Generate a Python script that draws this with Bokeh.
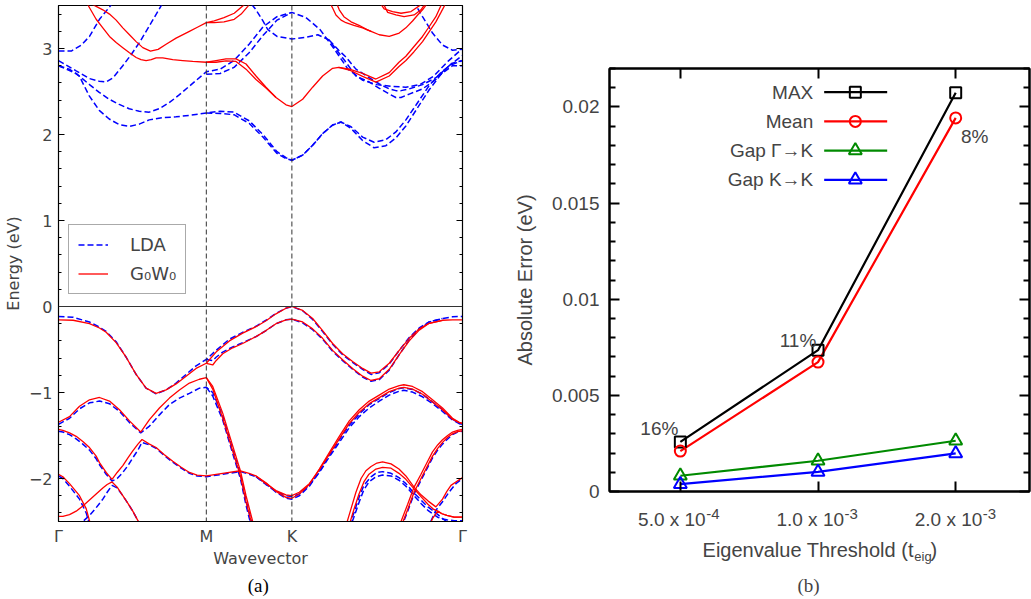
import math
from bokeh.plotting import figure
from bokeh.models import (Span, Legend, LegendItem, Label, FixedTicker, LinearAxis, LogAxis,
                          CustomJSTickFormatter, Range1d)
from bokeh.layouts import row, column
from bokeh.embed import file_html
from bokeh.resources import INLINE

# ====================== Panel (a): band structure ======================
path_ticks = [0.0, 0.577, 0.911, 1.577]
path_labels = ["Γ", "M", "K", "Γ"]
energy_ticks = [-2, -1, 0, 1, 2, 3]

# --- valence bands ---
vb1_k = [0.000, 0.057, 0.121, 0.160, 0.186, 0.225, 0.264, 0.303, 0.342, 0.381, 0.420, 0.459, 0.498, 0.537, 0.577,
         0.615, 0.667, 0.719, 0.771, 0.810, 0.849, 0.888, 0.911, 0.953, 0.992, 1.031, 1.070, 1.109, 1.148, 1.187,
         1.220, 1.252, 1.291, 1.330, 1.369, 1.408, 1.447, 1.499, 1.538, 1.577]
vb1_gw = [-0.155, -0.16, -0.20, -0.25, -0.30, -0.42, -0.59, -0.79, -0.95, -1.01, -0.97, -0.90, -0.81, -0.72, -0.66,
          -0.53, -0.40, -0.31, -0.235, -0.165, -0.085, -0.02, 0.0, -0.046, -0.14, -0.28, -0.43, -0.55, -0.64, -0.72,
          -0.775, -0.76, -0.66, -0.51, -0.37, -0.26, -0.195, -0.16, -0.155, -0.155]
vb1_lda = [-0.115, -0.125, -0.18, -0.24, -0.29, -0.41, -0.59, -0.79, -0.95, -1.015, -0.97, -0.89, -0.79, -0.69, -0.615,
           -0.51, -0.38, -0.30, -0.23, -0.16, -0.08, -0.02, 0.0, -0.05, -0.15, -0.29, -0.44, -0.56, -0.65, -0.73,
           -0.79, -0.77, -0.67, -0.51, -0.36, -0.25, -0.18, -0.14, -0.12, -0.115]

vb2_k = [0.577, 0.602, 0.615, 0.641, 0.680, 0.719, 0.771, 0.810, 0.849, 0.888, 0.911, 0.953, 0.992, 1.031, 1.070,
         1.109, 1.148, 1.187, 1.220, 1.252, 1.291, 1.330, 1.369, 1.408, 1.447, 1.499]
vb2_gw = [-0.66, -0.68, -0.63, -0.55, -0.48, -0.43, -0.35, -0.28, -0.20, -0.155, -0.146, -0.18, -0.26, -0.37, -0.51,
          -0.62, -0.72, -0.81, -0.86, -0.84, -0.73, -0.56, -0.40, -0.275, -0.195, -0.16]
vb2_lda = [-0.615, -0.63, -0.59, -0.53, -0.47, -0.42, -0.35, -0.28, -0.20, -0.155, -0.146, -0.19, -0.27, -0.38, -0.52,
           -0.63, -0.73, -0.82, -0.87, -0.85, -0.74, -0.56, -0.39, -0.26, -0.18, -0.14]

vb3_k = [0.000, 0.043, 0.082, 0.121, 0.160, 0.199, 0.238, 0.277, 0.321, 0.355, 0.394, 0.433, 0.472, 0.511, 0.550,
         0.577, 0.602, 0.641, 0.680, 0.710, 0.732, 0.758, 0.783]
vb3_gw = [-1.346, -1.28, -1.16, -1.085, -1.058, -1.10, -1.20, -1.33, -1.46, -1.315, -1.18, -1.065, -0.97, -0.89,
          -0.846, -0.827, -0.93, -1.24, -1.62, -1.91, -2.20, -2.50, -2.80]
vb3_lda = [-1.37, -1.30, -1.19, -1.12, -1.10, -1.13, -1.22, -1.35, -1.47, -1.39, -1.26, -1.14, -1.065, -1.01, -0.95,
           -0.94, -1.0, -1.27, -1.66, -1.95, -2.25, -2.56, -2.85]

vb4_k = [0.577, 0.602, 0.641, 0.680, 0.710, 0.732, 0.758, 0.783]
vb4_gw = [-0.827, -0.96, -1.30, -1.68, -1.97, -2.27, -2.57, -2.85]
vb4_lda = [-0.94, -1.04, -1.32, -1.71, -2.00, -2.31, -2.62, -2.90]

vb5_k = [0.000, 0.017, 0.043, 0.069, 0.095, 0.121, 0.147, 0.160, 0.186, 0.209, 0.229, 0.251, 0.271, 0.290, 0.310,
         0.326, 0.355, 0.381, 0.412, 0.446, 0.479, 0.511, 0.541, 0.577, 0.641, 0.710, 0.744, 0.771, 0.810, 0.849,
         0.888, 0.911, 0.940, 0.979, 1.018, 1.057, 1.096, 1.135, 1.174, 1.213, 1.252, 1.291, 1.330, 1.348, 1.382,
         1.421, 1.460, 1.499, 1.538, 1.564, 1.577]
vb5_gw = [-1.43, -1.44, -1.47, -1.51, -1.57, -1.64, -1.74, -1.815, -1.93, -2.01, -1.93, -1.85, -1.76, -1.68, -1.60,
          -1.546, -1.60, -1.64, -1.72, -1.80, -1.87, -1.93, -1.96, -1.97, -1.94, -1.91, -1.94, -1.97, -2.05, -2.15,
          -2.22, -2.23, -2.18, -2.07, -1.89, -1.70, -1.51, -1.33, -1.20, -1.10, -1.03, -0.96, -0.92, -0.91, -0.93,
          -0.99, -1.085, -1.18, -1.30, -1.346, -1.36]
vb5_lda = [-1.45, -1.46, -1.49, -1.54, -1.60, -1.67, -1.77, -1.84, -1.95, -2.03, -2.00, -1.93, -1.85, -1.76, -1.67,
           -1.58, -1.61, -1.65, -1.73, -1.81, -1.88, -1.94, -1.97, -1.98, -1.95, -1.92, -1.95, -1.98, -2.06, -2.16,
           -2.23, -2.24, -2.20, -2.09, -1.92, -1.73, -1.55, -1.38, -1.25, -1.14, -1.07, -1.00, -0.955, -0.945, -0.965,
           -1.02, -1.11, -1.20, -1.31, -1.36, -1.37]

vb6_k = [0.771, 0.810, 0.849, 0.888, 0.911, 0.940, 0.979, 1.018, 1.057, 1.096, 1.135, 1.174, 1.213, 1.252, 1.291,
         1.330, 1.348, 1.382, 1.421, 1.460, 1.499, 1.538, 1.564, 1.577]
vb6_gw = [-1.97, -2.06, -2.14, -2.19, -2.20, -2.16, -2.06, -1.90, -1.72, -1.54, -1.36, -1.23, -1.13, -1.06, -0.99,
          -0.95, -0.94, -0.96, -1.02, -1.11, -1.20, -1.31, -1.35, -1.36]
vb6_lda = [-1.98, -2.07, -2.15, -2.20, -2.21, -2.18, -2.08, -1.93, -1.75, -1.58, -1.41, -1.28, -1.18, -1.10, -1.03,
           -0.985, -0.975, -0.995, -1.05, -1.13, -1.22, -1.32, -1.36, -1.37]

vb7_k = [0.000, 0.017, 0.043, 0.069, 0.095, 0.121, 0.147, 0.173, 0.190, 0.209, 0.229, 0.251, 0.271, 0.290, 0.310, 0.330]
vb7_gw = [-2.44, -2.44, -2.42, -2.38, -2.32, -2.25, -2.18, -2.11, -2.07, -2.04, -2.10, -2.20, -2.29, -2.38, -2.49, -2.60]
vb7_lda = [-2.58, -2.58, -2.57, -2.54, -2.50, -2.43, -2.34, -2.24, -2.16, -2.08, -2.11, -2.20, -2.29, -2.38, -2.49, -2.60]

vb8_k = [0.000, 0.017, 0.043, 0.082, 0.108, 0.121, 0.135]
vb8_gw = [-1.95, -1.98, -2.06, -2.20, -2.35, -2.49, -2.65]
vb8_lda = [-1.97, -2.00, -2.09, -2.24, -2.40, -2.53, -2.69]

vb9_k = [1.122, 1.142, 1.161, 1.181, 1.200, 1.220, 1.243, 1.265, 1.298, 1.329, 1.356, 1.388, 1.415, 1.442, 1.473,
         1.499, 1.516, 1.532, 1.551, 1.577]
vb9_gw = [-2.55, -2.35, -2.16, -2.00, -1.91, -1.86, -1.82, -1.807, -1.83, -1.89, -1.97, -2.10, -2.19, -2.26, -2.33,
          -2.24, -2.15, -2.08, -2.04, -1.99]
vb9_lda_k = [1.134, 1.153, 1.173, 1.192, 1.220, 1.243, 1.265, 1.298, 1.329, 1.356, 1.388, 1.415, 1.442, 1.473, 1.497, 1.524]
vb9_lda = [-2.55, -2.40, -2.22, -2.08, -1.98, -1.93, -1.92, -1.94, -1.99, -2.06, -2.17, -2.25, -2.33, -2.40, -2.46, -2.52]

vb10_k = [1.134, 1.153, 1.173, 1.192, 1.212, 1.239, 1.265, 1.298, 1.329, 1.356, 1.388, 1.415, 1.442, 1.465, 1.480,
          1.497, 1.516, 1.544, 1.577]
vb10_gw = [-2.55, -2.36, -2.18, -2.04, -1.95, -1.89, -1.87, -1.88, -1.94, -2.01, -2.12, -2.21, -2.30, -2.36, -2.38,
           -2.41, -2.43, -2.45, -2.45]
vb10_lda = [-2.60, -2.45, -2.28, -2.13, -2.04, -1.98, -1.96, -1.97, -2.02, -2.09, -2.20, -2.29, -2.37, -2.42, -2.45,
            -2.47, -2.48, -2.49, -2.49]

vb11_k = [1.446, 1.461, 1.480, 1.497, 1.516, 1.544, 1.577]
vb11_gw = [-2.56, -2.46, -2.38, -2.41, -2.43, -2.45, -2.45]
vb11_lda_k = [1.453, 1.473, 1.499, 1.524, 1.551, 1.577]
vb11_lda = [-2.50, -2.37, -2.27, -2.16, -2.06, -2.00]

vb12_k = [1.337, 1.363, 1.388, 1.415, 1.441, 1.460, 1.480, 1.499, 1.519, 1.538, 1.558, 1.577]
vb12_gw = [-2.50, -2.30, -2.10, -1.95, -1.80, -1.69, -1.61, -1.55, -1.50, -1.46, -1.44, -1.43]
vb13_gw = [-2.56, -2.36, -2.16, -2.00, -1.85, -1.74, -1.65, -1.58, -1.52, -1.48, -1.455, -1.445]
vb12_lda = [-2.58, -2.38, -2.18, -2.02, -1.87, -1.76, -1.67, -1.60, -1.54, -1.49, -1.46, -1.45]

# --- conduction bands (LDA) ---
cb1_k = [0.000, 0.042, 0.081, 0.120, 0.159, 0.198, 0.237, 0.277, 0.315, 0.354, 0.404, 0.459, 0.518, 0.577, 0.631,
         0.685, 0.744, 0.798, 0.853, 0.888, 0.911, 0.953, 0.992, 1.031, 1.070, 1.103, 1.142, 1.187, 1.232, 1.278,
         1.317, 1.356, 1.395, 1.447, 1.493, 1.538, 1.577]
cb1_lda = [2.80, 2.76, 2.68, 2.45, 2.28, 2.18, 2.115, 2.095, 2.12, 2.17, 2.195, 2.205, 2.225, 2.25, 2.27, 2.26, 2.16,
           2.00, 1.80, 1.73, 1.70, 1.76, 1.875, 2.01, 2.11, 2.145, 2.09, 1.97, 1.91, 1.94, 2.03, 2.17, 2.34, 2.57,
           2.72, 2.83, 2.86]
cb1b_k = [0.577, 0.631, 0.685, 0.744, 0.798, 0.853, 0.888, 0.911, 0.953, 0.992, 1.031, 1.070, 1.103, 1.142, 1.187,
          1.232, 1.278, 1.317, 1.356, 1.395, 1.447, 1.493, 1.538, 1.577]
cb1b_lda = [2.25, 2.245, 2.23, 2.13, 1.97, 1.78, 1.72, 1.70, 1.76, 1.875, 2.01, 2.11, 2.145, 2.07, 1.93, 1.845, 1.87,
            1.96, 2.10, 2.28, 2.52, 2.70, 2.80, 2.80]

cb2_k = [0.000, 0.069, 0.121, 0.159, 0.198, 0.237, 0.276, 0.315, 0.354, 0.393, 0.432, 0.471, 0.518, 0.577, 0.631,
         0.685, 0.744, 0.798, 0.853, 0.911, 0.966, 1.021, 1.075, 1.130, 1.188, 1.243, 1.298, 1.356, 1.411, 1.465,
         1.520, 1.577]
cb2_lda = [2.80, 2.71, 2.58, 2.49, 2.41, 2.35, 2.30, 2.27, 2.26, 2.30, 2.37, 2.46, 2.58, 2.73, 2.76, 2.86, 3.05, 3.25,
           3.37, 3.42, 3.36, 3.22, 3.00, 2.76, 2.63, 2.58, 2.56, 2.55, 2.58, 2.68, 2.85, 3.00]
cb2b_k = [0.577, 0.631, 0.685, 0.744, 0.798, 0.853, 0.911]
cb2b_lda = [2.70, 2.71, 2.78, 2.95, 3.15, 3.33, 3.42]

cb3_k = [0.685, 0.744, 0.771, 0.798, 0.817, 0.853, 0.911, 0.966, 1.012, 1.056, 1.094, 1.122, 1.161, 1.213, 1.251,
         1.291, 1.317, 1.337, 1.369, 1.421, 1.473, 1.525, 1.577]
cb3_lda = [3.75, 3.55, 3.45, 3.32, 3.22, 3.14, 3.11, 3.13, 3.16, 3.10, 2.95, 2.84, 2.68, 2.61, 2.54, 2.47, 2.43, 2.43,
           2.47, 2.53, 2.64, 2.80, 2.86]
cb3b_k = [1.056, 1.094, 1.122, 1.161, 1.213, 1.251, 1.291, 1.317, 1.337, 1.369, 1.421, 1.473, 1.525, 1.577]
cb3b_lda = [3.10, 2.98, 2.90, 2.76, 2.66, 2.59, 2.53, 2.51, 2.51, 2.53, 2.58, 2.66, 2.80, 2.92]

cb4_k = [0.000, 0.050, 0.089, 0.121, 0.160, 0.212, 0.237]
cb4_lda = [2.97, 2.97, 3.04, 3.14, 3.34, 3.53, 3.65]
cb4r_k = [1.356, 1.382, 1.421, 1.460, 1.499, 1.538, 1.577]
cb4r_lda = [3.75, 3.57, 3.37, 3.18, 3.04, 2.98, 2.99]
cb5_k = [0.000, 0.069, 0.121, 0.159, 0.186, 0.213, 0.251, 0.284, 0.316, 0.362, 0.407, 0.432]
cb5_lda = [2.86, 2.74, 2.65, 2.62, 2.61, 2.66, 2.80, 2.93, 3.07, 3.30, 3.53, 3.65]

# --- conduction bands (G0W0) ---
cw1_k = [0.096, 0.116, 0.147, 0.173, 0.199, 0.225, 0.251, 0.277, 0.303, 0.322, 0.342, 0.362, 0.381, 0.407, 0.446,
         0.485, 0.524, 0.577, 0.615, 0.654, 0.693, 0.732, 0.771, 0.810, 0.849, 0.888, 0.911, 0.953, 0.992, 1.031,
         1.070, 1.094, 1.135, 1.187, 1.239, 1.291, 1.329, 1.356, 1.387, 1.421, 1.446, 1.473, 1.493, 1.516]
cw1_gw = [3.60, 3.50, 3.34, 3.24, 3.14, 3.07, 3.01, 2.95, 2.895, 2.87, 2.86, 2.87, 2.89, 2.89, 2.87, 2.86, 2.85, 2.84,
          2.86, 2.88, 2.88, 2.82, 2.68, 2.55, 2.43, 2.345, 2.325, 2.41, 2.55, 2.68, 2.77, 2.78, 2.76, 2.71, 2.645,
          2.72, 2.84, 2.91, 3.02, 3.14, 3.25, 3.37, 3.50, 3.62]
cw1b_k = [0.577, 0.615, 0.654, 0.693, 0.732, 0.771, 0.810, 0.849]
cw1b_gw = [2.84, 2.84, 2.855, 2.85, 2.76, 2.64, 2.54, 2.43]
cw1c_k = [1.094, 1.135, 1.187, 1.239, 1.291, 1.329, 1.356, 1.387, 1.421, 1.446, 1.473, 1.493, 1.516, 1.532]
cw1c_gw = [2.78, 2.75, 2.675, 2.61, 2.68, 2.79, 2.86, 2.96, 3.08, 3.19, 3.31, 3.42, 3.55, 3.62]

cw2_k = [0.100, 0.128, 0.147, 0.173, 0.199, 0.225, 0.251, 0.277, 0.303, 0.329, 0.359, 0.389, 0.420, 0.459, 0.511,
         0.544, 0.577, 0.608, 0.646, 0.686, 0.725, 0.752]
cw2_gw = [3.55, 3.52, 3.49, 3.45, 3.40, 3.33, 3.24, 3.16, 3.08, 3.01, 2.97, 2.99, 3.05, 3.12, 3.20, 3.25, 3.30, 3.32,
          3.36, 3.41, 3.51, 3.60]
cw2b_k = [0.577, 0.608, 0.646, 0.686, 0.713, 0.739, 0.759]
cw2b_gw = [3.30, 3.30, 3.31, 3.34, 3.40, 3.49, 3.58]

cw3_k = [1.048, 1.070, 1.083, 1.103, 1.122, 1.153, 1.187, 1.220, 1.252, 1.291, 1.330, 1.356, 1.382, 1.402, 1.421, 1.446]
cw3_gw = [3.60, 3.47, 3.39, 3.33, 3.30, 3.27, 3.24, 3.20, 3.16, 3.14, 3.18, 3.24, 3.32, 3.39, 3.45, 3.55]
cw3b_k = [1.075, 1.096, 1.114, 1.142, 1.173, 1.204, 1.220]
cw3b_gw = [3.60, 3.45, 3.37, 3.31, 3.27, 3.22, 3.20]
cw4_k = [1.251, 1.271, 1.304, 1.337, 1.376, 1.415, 1.434]
cw4_gw = [3.55, 3.46, 3.43, 3.41, 3.43, 3.51, 3.58]
cw4b_k = [1.263, 1.285, 1.317, 1.349, 1.388, 1.415, 1.438]
cw4b_gw = [3.55, 3.42, 3.39, 3.37, 3.39, 3.45, 3.55]

lda_curves = [(vb1_k, vb1_lda), (vb2_k, vb2_lda), (vb3_k, vb3_lda), (vb4_k, vb4_lda), (vb5_k, vb5_lda),
              (vb6_k, vb6_lda), (vb7_k, vb7_lda), (vb8_k, vb8_lda), (vb9_lda_k, vb9_lda), (vb10_k, vb10_lda),
              (vb11_lda_k, vb11_lda), (vb12_k, vb12_lda), (cb1_k, cb1_lda), (cb1b_k, cb1b_lda), (cb2_k, cb2_lda),
              (cb2b_k, cb2b_lda), (cb3_k, cb3_lda), (cb3b_k, cb3b_lda), (cb4_k, cb4_lda), (cb4r_k, cb4r_lda),
              (cb5_k, cb5_lda)]
gw_curves = [(vb1_k, vb1_gw), (vb2_k, vb2_gw), (vb3_k, vb3_gw), (vb4_k, vb4_gw), (vb5_k, vb5_gw), (vb6_k, vb6_gw),
             (vb7_k, vb7_gw), (vb8_k, vb8_gw), (vb9_k, vb9_gw), (vb10_k, vb10_gw), (vb11_k, vb11_gw),
             (vb12_k, vb12_gw), (vb12_k, vb13_gw), (cw1_k, cw1_gw), (cw1b_k, cw1b_gw), (cw1c_k, cw1c_gw),
             (cw2_k, cw2_gw), (cw2b_k, cw2b_gw), (cw3_k, cw3_gw), (cw3b_k, cw3b_gw), (cw4_k, cw4_gw),
             (cw4b_k, cw4b_gw)]
for i, (kk, ee) in enumerate(lda_curves + gw_curves):
    assert len(kk) == len(ee), (i, len(kk), len(ee))

# ====================== Panel (b): error vs threshold ======================
thresholds = [5e-4, 1e-3, 2e-3]
threshold_mantissa = ["5.0 x 10", "1.0 x 10", "2.0 x 10"]
threshold_exponent = ["-4", "-3", "-3"]
err_max = [0.00258, 0.00735, 0.02074]
err_mean = [0.0021, 0.00673, 0.01943]
err_gap_gk = [0.00082, 0.0016, 0.00264]
err_gap_kk = [0.00038, 0.00102, 0.00198]
pct_labels = ["16%", "11%", "8%"]
error_ticks = [0, 0.005, 0.01, 0.015, 0.02]
series_names = ["MAX", "Mean", "Gap Γ→K", "Gap K→K"]

BLUE = "#0000ff"
RED = "#ff0000"
GREEN = "#008a00"

# ---------------------------------------------------------------- figure (a)
p1 = figure(width=510, height=570, x_range=Range1d(0, 1.577), y_range=Range1d(-2.5, 3.5),
            output_backend="svg", toolbar_location=None,
            min_border_left=57, min_border_right=48, min_border_top=5, min_border_bottom=44)
p1.frame_align = False
p1.xgrid.visible = False
p1.ygrid.visible = False
p1.outline_line_color = "black"
p1.outline_line_width = 1.2

minor_e = [i / 5 for i in range(-12, 18) if i % 5 != 0]
yt1 = FixedTicker(ticks=energy_ticks, minor_ticks=minor_e)
ax = p1.yaxis[0]
ax.ticker = yt1
ax.formatter = CustomJSTickFormatter(code="return tick < 0 ? '\u2212' + Math.abs(tick) : '' + tick;")
ax.major_tick_in = 6
ax.major_tick_out = 0
ax.minor_tick_in = 3
ax.minor_tick_out = 0
ax.major_label_standoff = 6
ax.major_label_text_font = "DejaVu Sans"
ax.major_label_text_font_size = "16px"
ax.axis_label = "Energy (eV)"
ax.axis_label_text_font = "DejaVu Sans"
ax.axis_label_text_font_size = "16px"
ax.axis_label_text_font_style = "normal"
ax.axis_label_standoff = 3

rax1 = LinearAxis(ticker=yt1, formatter=CustomJSTickFormatter(code="return '';"),
                  major_tick_in=6, major_tick_out=0, minor_tick_in=3, minor_tick_out=0,
                  major_label_standoff=0, major_label_text_font_size="0px")
p1.add_layout(rax1, "right")

bx = p1.xaxis[0]
bx.ticker = FixedTicker(ticks=path_ticks, minor_ticks=[])
bx.formatter = CustomJSTickFormatter(args=dict(vals=path_ticks, labels=path_labels), code="""
let best = 0, d = Infinity;
for (let i = 0; i < vals.length; i++) { const e = Math.abs(vals[i] - tick); if (e < d) { d = e; best = i; } }
return labels[best];
""")
bx.major_tick_in = 0
bx.major_tick_out = 0
bx.minor_tick_in = 0
bx.minor_tick_out = 0
bx.major_label_standoff = 5
bx.major_label_text_font = "DejaVu Sans"
bx.major_label_text_font_size = "16px"
bx.axis_label = "Wavevector"
bx.axis_label_text_font = "DejaVu Sans"
bx.axis_label_text_font_size = "16px"
bx.axis_label_text_font_style = "normal"
bx.axis_label_standoff = 0

for loc in path_ticks[1:3]:
    p1.add_layout(Span(location=loc, dimension="height", line_color="#333333", line_width=1, line_dash="5 3"))
p1.add_layout(Span(location=0, dimension="width", line_color="#333333", line_width=1))

lda_r = [p1.line(kk, ee, line_color=BLUE, line_width=1.5, line_dash="6 3") for kk, ee in lda_curves]
gw_r = [p1.line(kk, ee, line_color=RED, line_width=1.3) for kk, ee in gw_curves]

leg = Legend(items=[LegendItem(label="LDA", renderers=[lda_r[0]]),
                    LegendItem(label="G₀W₀", renderers=[gw_r[0]])],
             location=(10, 227), orientation="vertical", margin=0, padding=9, spacing=8,
             glyph_width=30, glyph_height=21, label_height=21, label_standoff=22,
             label_text_font="DejaVu Sans", label_text_font_size="18px",
             border_line_color="#555555", border_line_width=1, background_fill_alpha=1)
p1.add_layout(leg)

# caption strip under panel (a): y measured downward in pixels from its top
cap1 = figure(width=510, height=29, x_range=p1.x_range, y_range=Range1d(29, 0),
              output_backend="svg", toolbar_location=None, x_axis_location=None, y_axis_location=None,
              min_border_left=57, min_border_right=48, min_border_top=0, min_border_bottom=0)
cap1.frame_align = False
cap1.outline_line_color = None
cap1.xgrid.visible = False
cap1.ygrid.visible = False
cap1.add_layout(Label(x=0.7815, y=15, text="(a)", text_align="center", text_baseline="middle",
                      text_font="Liberation Serif", text_font_size="19px", text_color="black"))

# ---------------------------------------------------------------- figure (b)
X0, X1, Y0, Y1 = 3.5e-4, 2.9e-3, 0.0, 0.022
P2_LEFT, P2_W, P2_TOP, P2_H = 607.0, 422.0, 68.0, 423.0   # page pixels of the frame


def px2x(page_x):
    return X0 * (X1 / X0) ** ((page_x - P2_LEFT) / P2_W)


def px2y(page_y):
    return Y1 - (page_y - P2_TOP) / P2_H * (Y1 - Y0)


P2_HEIGHT = 503
p2 = figure(width=521, height=P2_HEIGHT, x_axis_type="log", x_range=Range1d(X0, X1), y_range=Range1d(Y0, Y1),
            output_backend="svg", toolbar_location=None,
            min_border_left=97, min_border_right=2, min_border_top=68, min_border_bottom=P2_HEIGHT - 491)
p2.frame_align = False
p2.xgrid.visible = False
p2.ygrid.visible = False
p2.outline_line_color = "black"
p2.outline_line_width = 2

minor_err = [i / 1000 for i in range(1, 23) if i % 5 != 0]
yt2 = FixedTicker(ticks=error_ticks, minor_ticks=minor_err)
ay = p2.yaxis[0]
ay.ticker = yt2
ay.formatter = CustomJSTickFormatter(code="return '' + tick;")
ay.major_tick_in = 10
ay.major_tick_out = 0
ay.minor_tick_in = 6
ay.minor_tick_out = 0
ay.major_tick_line_width = 2
ay.minor_tick_line_width = 2
ay.axis_line_width = 2
ay.major_label_standoff = 10
ay.major_label_text_font = "Liberation Sans"
ay.major_label_text_font_size = "19px"
ay.axis_label = "Absolute Error (eV)"
ay.axis_label_text_font = "Liberation Sans"
ay.axis_label_text_font_size = "20px"
ay.axis_label_text_font_style = "normal"
ay.axis_label_standoff = 13

rax2 = LinearAxis(ticker=yt2, formatter=CustomJSTickFormatter(code="return '';"),
                  major_tick_in=10, major_tick_out=0, minor_tick_in=6, minor_tick_out=0,
                  major_tick_line_width=2, minor_tick_line_width=2, axis_line_width=2,
                  major_label_standoff=0, major_label_text_font_size="0px")
p2.add_layout(rax2, "right")

xt2 = FixedTicker(ticks=thresholds, minor_ticks=[])
axx = p2.xaxis[0]
axx.ticker = xt2
axx.formatter = CustomJSTickFormatter(code="return '';")
axx.major_tick_in = 10
axx.major_tick_out = 0
axx.minor_tick_in = 0
axx.minor_tick_out = 0
axx.major_tick_line_width = 2
axx.axis_line_width = 2
axx.major_label_standoff = 0
axx.major_label_text_font_size = "0px"

tax2 = LogAxis(ticker=xt2, formatter=CustomJSTickFormatter(code="return '';"),
               major_tick_in=10, major_tick_out=0, minor_tick_in=0, minor_tick_out=0,
               major_tick_line_width=2, axis_line_width=2, major_label_standoff=0,
               major_label_text_font_size="0px")
p2.add_layout(tax2, "above")

series = [(err_max, "black", "square", 11),
          (err_mean, RED, "circle", 11),
          (err_gap_gk, GREEN, "triangle", 13),
          (err_gap_kk, BLUE, "triangle", 13)]
for vals, col, mk, sz in series:
    p2.line(thresholds, vals, line_color=col, line_width=2.2)
for vals, col, mk, sz in series:
    p2.scatter(thresholds, vals, marker=mk, size=sz, line_color=col, line_width=2, fill_color=None)

# percentage annotations
pct_font = dict(text_align="center", text_baseline="middle", text_font="Liberation Sans", text_font_size="19px")
p2.add_layout(Label(x=thresholds[0], y=err_max[0], x_offset=-21, y_offset=13, text=pct_labels[0], **pct_font))
p2.add_layout(Label(x=thresholds[1], y=err_max[1], x_offset=-20, y_offset=10, text=pct_labels[1], **pct_font))
p2.add_layout(Label(x=thresholds[2], y=err_mean[2], x_offset=19, y_offset=-19, text=pct_labels[2], **pct_font))

# legend (text on the left of the sample, as in the original)
for i, (name, (vals, col, mk, sz)) in enumerate(zip(series_names, series)):
    ry = px2y(91.7 + 29.2 * i)
    p2.add_layout(Label(x=px2x(811.7), y=ry, text=name, text_align="right", text_baseline="middle",
                        text_font="Liberation Sans", text_font_size="19px"))
    p2.line([px2x(822.7), px2x(886)], [ry, ry], line_color=col, line_width=2.2)
    p2.scatter([px2x(854)], [ry], marker=mk, size=sz, line_color=col, line_width=2, fill_color=None)

# caption strip under panel (b): tick labels, axis title, caption; y in pixels downward from its top
CAP2_TOP = P2_HEIGHT
CAP2_H = 599 - P2_HEIGHT
cap2 = figure(width=521, height=CAP2_H, x_axis_type="log", x_range=p2.x_range, y_range=Range1d(CAP2_H, 0),
              output_backend="svg", toolbar_location=None, x_axis_location=None, y_axis_location=None,
              min_border_left=97, min_border_right=2, min_border_top=0, min_border_bottom=0)
cap2.frame_align = False
cap2.outline_line_color = None
cap2.xgrid.visible = False
cap2.ygrid.visible = False
for t, mant, expo in zip(thresholds, threshold_mantissa, threshold_exponent):
    cap2.add_layout(Label(x=t, y=519 - CAP2_TOP, x_offset=27, text=mant, text_align="right",
                          text_baseline="middle", text_font="Liberation Sans", text_font_size="19px"))
    cap2.add_layout(Label(x=t, y=513 - CAP2_TOP, x_offset=27.5, text=expo, text_align="left",
                          text_baseline="middle", text_font="Liberation Sans", text_font_size="15px"))
cap2.add_layout(Label(x=px2x(913.3), y=549 - CAP2_TOP, text="Eigenvalue Threshold (t", text_align="right",
                      text_baseline="middle", text_font="Liberation Sans", text_font_size="20px"))
cap2.add_layout(Label(x=px2x(913.8), y=556 - CAP2_TOP, text="eig", text_align="left",
                      text_baseline="middle", text_font="Liberation Sans", text_font_size="13px"))
cap2.add_layout(Label(x=px2x(930.0), y=549 - CAP2_TOP, text=")", text_align="left",
                      text_baseline="middle", text_font="Liberation Sans", text_font_size="20px"))
cap2.add_layout(Label(x=px2x(808), y=585 - CAP2_TOP, text="(b)", text_align="center", text_baseline="middle",
                      text_font="Liberation Serif", text_font_size="19px"))

layout = row(column(p1, cap1, spacing=0), column(p2, cap2, spacing=0), spacing=0)
with open("out.html", "w", encoding="utf-8") as f:
    f.write(file_html(layout, INLINE))
